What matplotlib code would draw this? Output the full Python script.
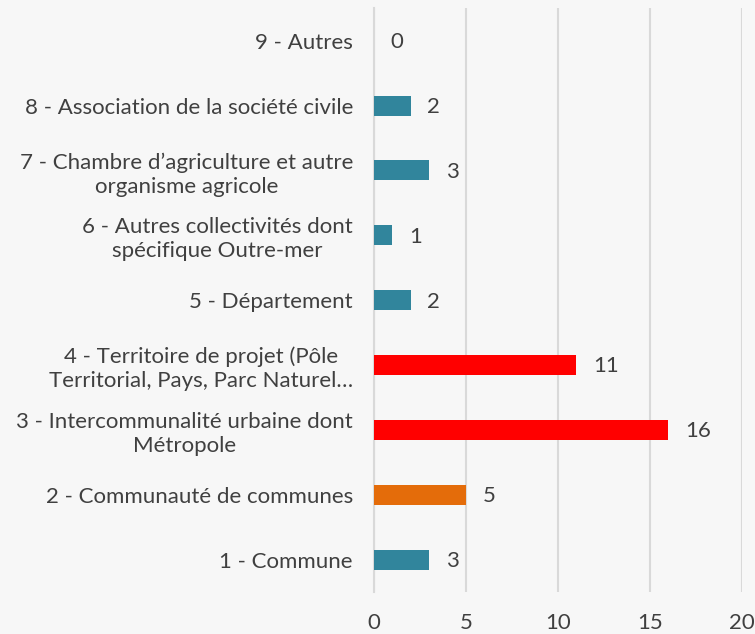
import matplotlib.pyplot as plt

# categories from bottom to top
categories = [
    "1 - Commune",
    "2 - Communauté de communes",
    "3 - Intercommunalité urbaine dont\nMétropole",
    "4 - Territoire de projet (Pôle\nTerritorial, Pays, Parc Naturel…",
    "5 - Département",
    "6 - Autres collectivités dont\nspécifique Outre-mer",
    "7 - Chambre d’agriculture et autre\norganisme agricole",
    "8 - Association de la société civile",
    "9 - Autres",
]
values = [3, 5, 16, 11, 2, 1, 3, 2, 0]
bar_colors = ["#31859C", "#E46C0A", "#FF0000", "#FF0000", "#31859C",
              "#31859C", "#31859C", "#31859C", "#31859C"]
x_ticks = [0, 5, 10, 15, 20]

plt.rcParams['font.family'] = ['Lato', 'DejaVu Sans']
text_color = "#404040"
bg = "#F7F7F7"
fs = 16

fig = plt.figure(figsize=(7.55, 6.34), dpi=100, facecolor=bg)
ax = fig.add_axes([0.495, 0.066, 0.488, 0.921])
ax.set_facecolor(bg)

pos = list(range(len(categories)))
ax.barh(pos, values, height=0.31, color=bar_colors, zorder=3)

for p, v in zip(pos, values):
    ax.annotate(str(v), (v, p), xytext=(12, -1), textcoords="offset points",
                va="center", ha="left", fontsize=fs, color=text_color)

ax.set_xlim(0, 20)
ax.set_ylim(-0.5, 8.5)
ax.set_xticks(x_ticks)
ax.set_yticks(pos)
ax.set_yticklabels(categories, fontsize=fs, color=text_color,
                   linespacing=1.25, multialignment="center")
ax.tick_params(axis="y", length=0, pad=15)
ax.tick_params(axis="x", length=0, pad=15, labelsize=fs, labelcolor=text_color)
ax.grid(axis="x", color="#D9D9D9", linewidth=1.5, zorder=0)
for s in ["top", "right", "bottom"]:
    ax.spines[s].set_visible(False)
ax.spines["left"].set_color("#D9D9D9")
ax.spines["left"].set_linewidth(1.5)

fig.savefig("out.png", dpi=100, facecolor=bg)
